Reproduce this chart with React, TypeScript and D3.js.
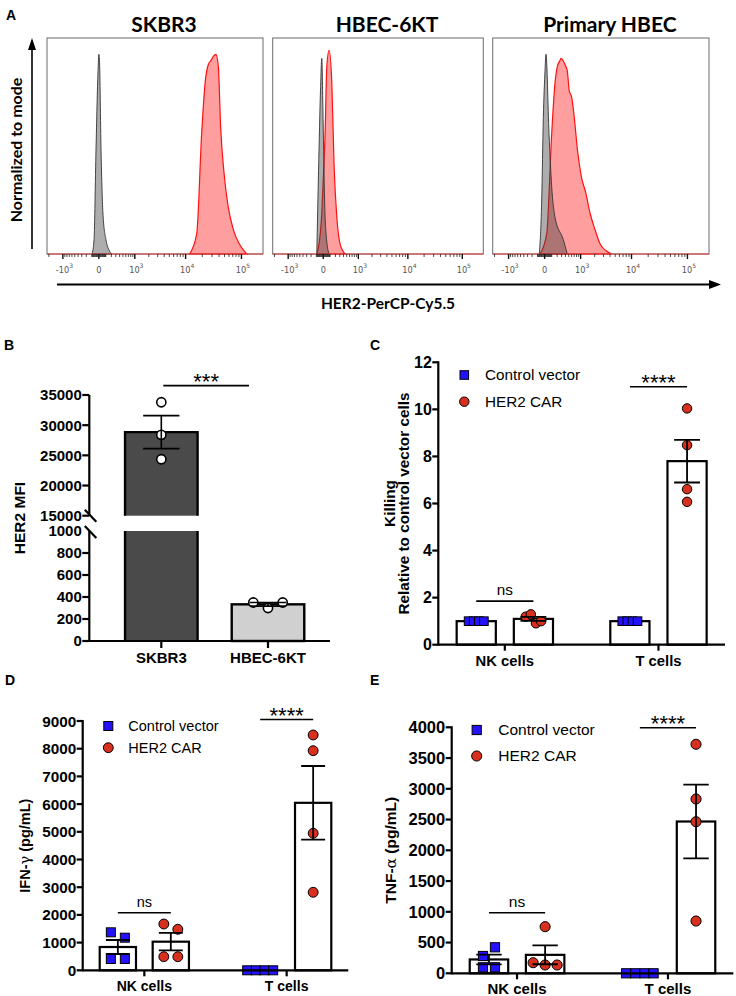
import React from "react";
import * as d3 from "d3";

// ---------------- Panel A: flow histograms (intensity, % of mode) ----------------
const histTitles = ["SKBR3", "HBEC-6KT", "Primary HBEC"];

const skbr3IsoX = [-97, -65, -37, -10, 0, 8, 28, 56, 101, 153, 212];
const skbr3IsoY = [0, 7, 51, 90, 98, 95, 51, 19, 7, 2, 0];
const skbr3HerX = [11800, 15900, 19500, 22500, 25700, 28700, 31500, 35200, 38800, 42700, 48900, 58200, 71700, 94000, 124000];
const skbr3HerY = [0, 10, 59, 84, 93, 95, 97, 98, 92, 62, 40, 23, 12, 4.4, 0];

const hbecIsoX = [-93, -65, -36, -19, -2, 17, 45, 83];
const hbecIsoY = [0, 41, 81, 96, 66, 27, 7, 0];
const hbecHerX = [-93, -68, -19, 2, 24, 48, 83, 129, 172, 229, 306, 448];
const hbecHerY = [0, 3, 20, 38, 59, 92, 100, 84, 43, 18, 5, 0];

const primIsoX = [-72, -38, -16, 5, 17, 59, 100, 158, 342, 454];
const primIsoY = [0, 26, 67, 90, 98, 59, 33, 18, 7, 0];
const primHerX = [-62, 27, 100, 158, 203, 261, 284, 388, 454, 519, 602, 703, 842, 1037, 1304, 1607, 2031, 2559, 3355, 4310];
const primHerY = [0, 10, 59, 84, 92, 95, 96, 93, 90, 80, 77, 67, 51, 38, 30, 20, 12, 5, 1.6, 0];

const histMajorTicks = [-1000, 0, 1000, 10000, 100000];
const histTickBase = ["-10", "0", "10", "10", "10"];
const histTickExp = ["3", "", "3", "4", "5"];

// ---------------- Panel B ----------------
const bCategories = ["SKBR3", "HBEC-6KT"];
const bSkbr3Values = [33800, 28400, 24350];
const bHbecValues = [350, 300, 350];
const bUpperTicks = [15000, 20000, 25000, 30000, 35000];
const bLowerTicks = [0, 200, 400, 600, 800, 1000];

// ---------------- Panels C-E ----------------
const cellCategories = ["NK cells", "T cells"];
const groupNames = ["Control vector", "HER2 CAR"];

const killNKControl = [1, 1, 1, 1];
const killNKCar = [1.19, 1.29, 0.91, 1.0];
const killTControl = [1, 1, 1, 1];
const killTCar = [10.04, 8.48, 6.07, 6.61];
const killTicks = [0, 2, 4, 6, 8, 10, 12];

const ifnNKControl = [1371, 1177, 408, 408];
const ifnNKCar = [1671, 1480, 491, 491];
const ifnTControl = [0, 0, 0, 0];
const ifnTCar = [8495, 7928, 4946, 2816];
const ifnTicks = [0, 1000, 2000, 3000, 4000, 5000, 6000, 7000, 8000, 9000];

const tnfNKControl = [281, 423, 98, 98];
const tnfNKCar = [758, 172, 135, 135];
const tnfTControl = [0, 0, 0, 0];
const tnfTCar = [3724, 2834, 2465, 850];
const tnfTicks = [0, 500, 1000, 1500, 2000, 2500, 3000, 3500, 4000];

const FONT = "'Liberation Sans', Arial, Helvetica, sans-serif";
const TFONT = "Lato, 'Open Sans', sans-serif";
const RED = "#d8301f";
const BLUE = "#2412ff";

function mean(v: number[]) { return d3.mean(v) as number; }
function sem(v: number[]) { const s = d3.deviation(v) || 0; return s / Math.sqrt(v.length); }

// GraphPad-like scatter spreading
function swarm(values: number[], y: (v: number) => number, size: number, maxS: number, W: number) {
  const idx = values.map((_, i) => i).sort((a, b) => values[b] - values[a]);
  const rows: { y0: number; items: number[] }[] = [];
  for (const i of idx) {
    const yy = y(values[i]);
    const last = rows[rows.length - 1];
    if (last && Math.abs(yy - last.y0) < 1.3 * size) last.items.push(i);
    else rows.push({ y0: yy, items: [i] });
  }
  const off = values.map(() => 0);
  for (const r of rows) {
    r.items.sort((a, b) => a - b);
    const k = r.items.length;
    if (k > 1) {
      const s = Math.min(maxS, W / (k - 1));
      r.items.forEach((i, j) => { off[i] = (j - (k - 1) / 2) * s; });
    }
  }
  return off;
}

// ---------------- Panel A ----------------
const boxLefts = [47, 272.7, 492.7];
const boxRights = [263, 483.3, 709];
const boxTop = 38, boxBottom = 254;
const histSets = [
  { isoX: skbr3IsoX, isoY: skbr3IsoY, herX: skbr3HerX, herY: skbr3HerY },
  { isoX: hbecIsoX, isoY: hbecIsoY, herX: hbecHerX, herY: hbecHerY },
  { isoX: primIsoX, isoY: primIsoY, herX: primHerX, herY: primHerY },
];

function minorTicks() {
  const t: number[] = [-2000];
  for (let m = 1; m <= 9; m++) {
    t.push(m * 10, -m * 10, m * 100, -m * 100);
    if (m >= 2) t.push(m * 1000, m * 10000);
  }
  return t;
}

function Histogram({ k }: { k: number }) {
  const L = boxLefts[k], R = boxRights[k];
  const x = d3.scaleSymlog().constant(300).domain([-2182, 241000]).range([L, R]);
  const y = d3.scaleLinear().domain([0, 106]).range([boxBottom, boxTop]);
  const area = d3.area<[number, number]>()
    .x((d) => x(d[0]))
    .y0(boxBottom)
    .y1((d) => y(d[1]))
    .curve(d3.curveMonotoneX);
  const s = histSets[k];
  const her = d3.zip(s.herX, s.herY) as [number, number][];
  const iso = d3.zip(s.isoX, s.isoY) as [number, number][];
  return (
    <g>
      <rect x={L} y={boxTop} width={R - L} height={boxBottom - boxTop} fill="#fff" stroke="#6b6b6b" strokeWidth={1} />
      <path d={area(her) || ""} fill="rgba(255,40,40,0.45)" stroke="#ff1010" strokeWidth={1.2} />
      <path d={area(iso) || ""} fill="rgba(60,60,60,0.42)" stroke="#333" strokeWidth={0.9} />
      <line x1={L} x2={R} y1={boxBottom} y2={boxBottom} stroke="#e03a3a" strokeWidth={1.2} />
      {minorTicks().map((v, i) => (
        <line key={"m" + i} x1={x(v)} x2={x(v)} y1={boxBottom} y2={boxBottom + 3} stroke="#222" strokeWidth={0.8} />
      ))}
      {histMajorTicks.map((v, i) => (
        <g key={"M" + i}>
          <line x1={x(v)} x2={x(v)} y1={boxBottom} y2={boxBottom + 5} stroke="#111" strokeWidth={1.4} />
          <text x={x(v) + (histTickExp[i] ? 1.5 : 0)} y={272.5} textAnchor="middle" fontFamily="'DejaVu Sans', Verdana, sans-serif" fontSize={8.2} fill="#555">
            {histTickBase[i]}
            {histTickExp[i] ? <tspan dy={-4.5} fontSize={6}>{histTickExp[i]}</tspan> : null}
          </text>
        </g>
      ))}
      <text x={(L + R) / 2 + 9} y={31.5} textAnchor="middle" fontFamily={TFONT} fontWeight="bold" fontSize={21} fill="#000">
        {histTitles[k]}
      </text>
    </g>
  );
}

function PanelA() {
  return (
    <g>
      <text x={6} y={20} fontFamily={FONT} fontWeight="bold" fontSize={14}>A</text>
      {[0, 1, 2].map((k) => <Histogram key={k} k={k} />)}
      <line x1={32} x2={32} y1={249} y2={48} stroke="#000" strokeWidth={1.6} />
      <path d="M32,38 L28,50 L36,50 Z" fill="#000" />
      <text transform="translate(21.5,150) rotate(-90)" textAnchor="middle" fontFamily={TFONT} fontWeight="bold" fontSize={16}>Normalized to mode</text>
      <line x1={57} x2={710} y1={284.5} y2={284.5} stroke="#000" strokeWidth={2} />
      <path d="M721,284.5 L709,280 L709,289 Z" fill="#000" />
      <text x={388} y={309} textAnchor="middle" fontFamily={TFONT} fontWeight="bold" fontSize={15.5}>HER2-PerCP-Cy5.5</text>
    </g>
  );
}

// ---------------- Panel B ----------------
function PanelB() {
  const axisX = 89.3, axisEnd = 330;
  const yLow = d3.scaleLinear().domain([0, 1000]).range([641, 531]);
  const yUp = d3.scaleLinear().domain([15000, 35000]).range([515.7, 395]);
  const yB = (v: number) => (v > 1000 ? yUp(Math.max(v, 15000)) : yLow(v));
  const x = d3.scalePoint().domain(bCategories).range([axisX, 340]).padding(0.675);
  const bw = 0.68 * x.step();
  const sets = [
    { cat: bCategories[0], vals: bSkbr3Values, fill: "#4a4a4a" },
    { cat: bCategories[1], vals: bHbecValues, fill: "#d0d0d0" },
  ];
  const sw = 2.4;
  return (
    <g fontFamily={FONT}>
      <text x={4} y={350} fontWeight="bold" fontSize={14}>B</text>
      {sets.map((s, i) => {
        const cx = x(s.cat) as number;
        const m = mean(s.vals);
        const l = cx - bw / 2, r = cx + bw / 2;
        if (m > 1000) {
          const top = yUp(m);
          return (
            <g key={i}>
              <rect x={l} y={top} width={bw} height={yUp(15000) - top} fill={s.fill} />
              <rect x={l} y={yLow(1000)} width={bw} height={yLow(0) - yLow(1000)} fill={s.fill} />
              <path d={`M${l},${yUp(15000)}V${top}H${r}V${yUp(15000)}`} fill="none" stroke="#000" strokeWidth={sw} />
              <path d={`M${l},${yLow(1000)}V${yLow(0)}M${r},${yLow(1000)}V${yLow(0)}`} fill="none" stroke="#000" strokeWidth={sw} />
            </g>
          );
        }
        return <rect key={i} x={l} y={yLow(m)} width={bw} height={yLow(0) - yLow(m)} fill={s.fill} stroke="#000" strokeWidth={sw} />;
      })}
      {sets.map((s, i) => {
        const cx = x(s.cat) as number;
        const off = swarm(s.vals, yB, 9.4, 14.7, 40);
        const m = mean(s.vals), e = sem(s.vals);
        const cap = bw * 0.25;
        return (
          <g key={"p" + i}>
            {s.vals.map((v, j) => (
              <circle key={j} cx={cx + off[j]} cy={yB(v)} r={4.6} fill="#fff" stroke="#000" strokeWidth={1.6} />
            ))}
            <path d={`M${cx},${yB(m - e)}V${yB(m + e)}M${cx - cap},${yB(m + e)}H${cx + cap}M${cx - cap},${yB(m - e)}H${cx + cap}`} stroke="#000" strokeWidth={1.6} fill="none" />
          </g>
        );
      })}
      {/* axes */}
      <line x1={axisX} x2={axisX} y1={yUp(35000)} y2={yUp(15000)} stroke="#000" strokeWidth={2.2} />
      <line x1={axisX} x2={axisX} y1={yLow(1000)} y2={yLow(0) + 1} stroke="#000" strokeWidth={2.2} />
      <line x1={axisX - 4.5} x2={axisX + 7} y1={yUp(15000) - 6} y2={yUp(15000) + 6} stroke="#000" strokeWidth={2.2} />
      <line x1={axisX - 4.5} x2={axisX + 7} y1={yLow(1000) - 5} y2={yLow(1000) + 7} stroke="#000" strokeWidth={2.2} />
      <line x1={axisX} x2={axisEnd} y1={yLow(0)} y2={yLow(0)} stroke="#000" strokeWidth={2.2} />
      {bUpperTicks.map((v) => (
        <g key={"u" + v}>
          <line x1={axisX - 7} x2={axisX} y1={yUp(v)} y2={yUp(v)} stroke="#000" strokeWidth={2.2} />
          <text x={axisX - 7.5} y={yUp(v)} dy="0.36em" textAnchor="end" fontWeight="bold" fontSize={15}>{v}</text>
        </g>
      ))}
      {bLowerTicks.map((v) => (
        <g key={"l" + v}>
          {v < 1000 ? <line x1={axisX - 7} x2={axisX} y1={yLow(v)} y2={yLow(v)} stroke="#000" strokeWidth={2.2} /> : null}
          <text x={axisX - 7.5} y={yLow(v)} dy="0.36em" textAnchor="end" fontWeight="bold" fontSize={15}>{v}</text>
        </g>
      ))}
      {bCategories.map((c) => (
        <g key={c}>
          <line x1={x(c) as number} x2={x(c) as number} y1={yLow(0)} y2={yLow(0) + 7} stroke="#000" strokeWidth={2.2} />
          <text x={x(c) as number} y={yLow(0) + 22} textAnchor="middle" fontWeight="bold" fontSize={15}>{c}</text>
        </g>
      ))}
      <text transform={`translate(24.5,${(yUp(35000) + yLow(0)) / 2}) rotate(-90)`} textAnchor="middle" fontWeight="bold" fontSize={15.5}>HER2 MFI</text>
      {/* significance */}
      <line x1={(x(bCategories[0]) as number) + 2} x2={(x(bCategories[1]) as number) - 19} y1={yUp(36540)} y2={yUp(36540)} stroke="#000" strokeWidth={1.8} />
      <text x={((x(bCategories[0]) as number) + (x(bCategories[1]) as number) - 17) / 2} y={yUp(36540) + 3} textAnchor="middle" fontSize={22}>***</text>
    </g>
  );
}

// ---------------- Panels C-E ----------------
type BarCfg = {
  letter: string; letterX: number; letterY: number;
  axisX: number; axisEnd: number; y0: number; yTop: number; max: number; ticks: number[];
  series: number[][][]; // [category][group] -> values
  yLabel: any[]; yLabelX: number[];
  legend: { x: number; y: number; dy: number; tx: number };
  sig: { value: number; label: string }[];
  size: number; maxS: number; W: number; fs: number; tfs: number;
};

function BarPanel({ cfg }: { cfg: BarCfg }) {
  const y = d3.scaleLinear().domain([0, cfg.max]).range([cfg.y0, cfg.yTop]);
  const x = d3.scalePoint().domain(cellCategories).range([cfg.axisX, cfg.axisEnd]).padding(0.433);
  const step = x.step();
  const g = d3.scaleBand().domain(groupNames).range([-0.3135 * step, 0.3135 * step]).paddingInner(0.315);
  const bw = g.bandwidth();
  const gc = (gi: number) => (g(groupNames[gi]) as number) + bw / 2;
  const sw = 2.2;
  const sq = cfg.size;
  const r = cfg.size * 0.55;
  const marker = (gi: number, cx: number, cy: number, key: any) =>
    gi === 0 ? (
      <rect key={key} x={cx - sq / 2} y={cy - sq / 2} width={sq} height={sq} fill={BLUE} stroke="#000" strokeWidth={1} />
    ) : (
      <circle key={key} cx={cx} cy={cy} r={r} fill={RED} stroke="#000" strokeWidth={1} />
    );
  return (
    <g fontFamily={FONT}>
      <text x={cfg.letterX} y={cfg.letterY} fontWeight="bold" fontSize={14}>{cfg.letter}</text>
      {/* bars */}
      {cellCategories.map((c, ci) =>
        groupNames.map((gn, gi) => {
          const vals = cfg.series[ci][gi];
          const m = mean(vals);
          const cx = (x(c) as number) + gc(gi);
          return <rect key={c + gn} x={cx - bw / 2} y={y(m)} width={bw} height={y(0) - y(m)} fill="#fff" stroke="#000" strokeWidth={sw} />;
        })
      )}
      {/* points & error bars */}
      {cellCategories.map((c, ci) =>
        groupNames.map((gn, gi) => {
          const vals = cfg.series[ci][gi];
          const m = mean(vals), e = sem(vals);
          const cx = (x(c) as number) + gc(gi);
          const off = swarm(vals, y, cfg.size * 1.05, cfg.maxS, cfg.W);
          const cap = bw * 0.33;
          return (
            <g key={"p" + c + gn}>
              {vals.map((v, j) => marker(gi, cx + off[j], y(v), j))}
              {e > 0 ? (
                <path d={`M${cx},${y(m - e)}V${y(m + e)}M${cx - cap},${y(m + e)}H${cx + cap}M${cx - cap},${y(m - e)}H${cx + cap}`} stroke="#000" strokeWidth={1.8} fill="none" />
              ) : null}
            </g>
          );
        })
      )}
      {/* axes */}
      <line x1={cfg.axisX} x2={cfg.axisX} y1={y(cfg.max) - 1} y2={y(0) + 1} stroke="#000" strokeWidth={sw} />
      <line x1={cfg.axisX} x2={cfg.axisEnd} y1={y(0)} y2={y(0)} stroke="#000" strokeWidth={sw} />
      {cfg.ticks.map((t) => (
        <g key={t}>
          <line x1={cfg.axisX - 6} x2={cfg.axisX} y1={y(t)} y2={y(t)} stroke="#000" strokeWidth={sw} />
          <text x={cfg.axisX - 6.5} y={y(t)} dy="0.36em" textAnchor="end" fontWeight="bold" fontSize={cfg.tfs}>{t}</text>
        </g>
      ))}
      {cellCategories.map((c) => (
        <g key={c}>
          <line x1={x(c) as number} x2={x(c) as number} y1={y(0)} y2={y(0) + 6} stroke="#000" strokeWidth={sw} />
          <text x={x(c) as number} y={y(0) + 21} textAnchor="middle" fontWeight="bold" fontSize={cfg.fs - 0.5}>{c}</text>
        </g>
      ))}
      {cfg.yLabel.map((lab, i) => (
        <text key={i} transform={`translate(${cfg.yLabelX[i]},${(y(0) + y(cfg.max)) / 2}) rotate(-90)`} textAnchor="middle" fontWeight="bold" fontSize={cfg.fs}>{lab}</text>
      ))}
      {/* legend */}
      {groupNames.map((gn, gi) => (
        <g key={gn}>
          {marker(gi, cfg.legend.x, cfg.legend.y + gi * cfg.legend.dy, "lg")}
          <text x={cfg.legend.tx} y={cfg.legend.y + gi * cfg.legend.dy} dy="0.35em" fontSize={cfg.fs}>{gn}</text>
        </g>
      ))}
      {/* significance */}
      {cellCategories.map((c, ci) => {
        const s = cfg.sig[ci];
        const x1 = (x(c) as number) + gc(0), x2 = (x(c) as number) + gc(1);
        const yy = y(s.value);
        const stars = s.label !== "ns";
        return (
          <g key={"s" + c}>
            <line x1={x1} x2={x2} y1={yy} y2={yy} stroke="#000" strokeWidth={1.6} />
            <text x={(x1 + x2) / 2} y={stars ? yy + 3.5 : yy - 6} textAnchor="middle" fontSize={stars ? 22 : cfg.fs}>{s.label}</text>
          </g>
        );
      })}
    </g>
  );
}

const cCfg: BarCfg = {
  letter: "C", letterX: 370, letterY: 350,
  axisX: 438.3, axisEnd: 725, y0: 644.7, yTop: 362.3, max: 12, ticks: killTicks,
  series: [[killNKControl, killNKCar], [killTControl, killTCar]],
  yLabel: ["Killing", "Relative to control vector cells"], yLabelX: [394.5, 408.5],
  legend: { x: 464.3, y: 375, dy: 26.7, tx: 485 },
  sig: [{ value: 1.85, label: "ns" }, { value: 10.96, label: "****" }],
  size: 8.6, maxS: 15, W: 15.3, fs: 15.3, tfs: 16,
};

const dCfg: BarCfg = {
  letter: "D", letterX: 5, letterY: 685,
  axisX: 82.7, axisEnd: 348.3, y0: 970.3, yTop: 721, max: 9000, ticks: ifnTicks,
  series: [[ifnNKControl, ifnNKCar], [ifnTControl, ifnTCar]],
  yLabel: [<>IFN-<tspan fontWeight="normal" fontFamily="'DejaVu Serif', serif">γ</tspan> (pg/mL)</>], yLabelX: [29.5],
  legend: { x: 108.3, y: 726, dy: 21.7, tx: 128.3 },
  sig: [{ value: 2080, label: "ns" }, { value: 9055, label: "****" }],
  size: 9, maxS: 14, W: 26, fs: 14.5, tfs: 15.3,
};

const eCfg: BarCfg = {
  letter: "E", letterX: 370, letterY: 685,
  axisX: 451.7, axisEnd: 733.3, y0: 973.3, yTop: 727.3, max: 4000, ticks: tnfTicks,
  series: [[tnfNKControl, tnfNKCar], [tnfTControl, tnfTCar]],
  yLabel: [<>TNF-<tspan fontWeight="normal" fontFamily="'DejaVu Serif', serif">α</tspan> (pg/mL)</>], yLabelX: [396.3],
  legend: { x: 476.7, y: 730, dy: 26, tx: 498.3 },
  sig: [{ value: 985, label: "ns" }, { value: 3993, label: "****" }],
  size: 9.2, maxS: 12, W: 27.4, fs: 15.5, tfs: 16.5,
};

export default function App() {
  return (
    <svg width={736} height={996} style={{ position: "absolute", left: 0, top: 0, background: "#fff" }} fontFamily={FONT}>
      <rect width={736} height={996} fill="#fff" />
      <PanelA />
      <PanelB />
      <BarPanel cfg={cCfg} />
      <BarPanel cfg={dCfg} />
      <BarPanel cfg={eCfg} />
    </svg>
  );
}
